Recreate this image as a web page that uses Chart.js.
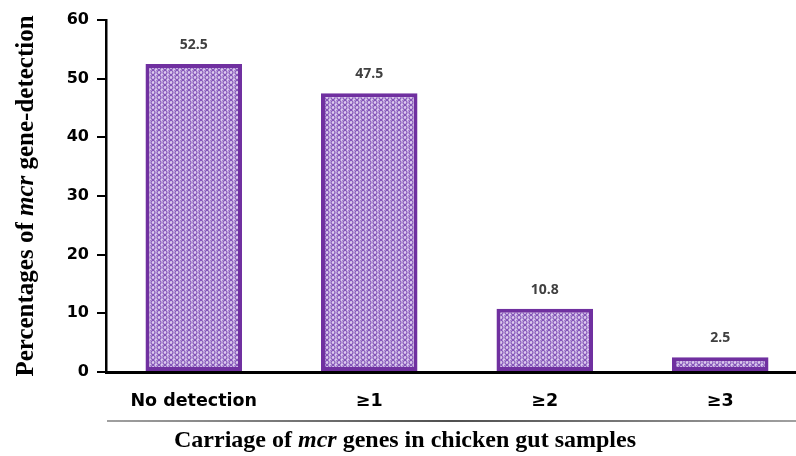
<!DOCTYPE html>
<html><head><meta charset="utf-8">
<script src="https://cdn.jsdelivr.net/npm/chart.js@4.4.1/dist/chart.umd.min.js"></script>
<style>html,body{margin:0;padding:0;overflow:hidden;background:#fff;width:796px;height:456px}
#wrap{width:812px;height:456px;position:relative}</style>
</head><body><div id="wrap"><canvas id="c" width="812" height="456"></canvas></div>
<script>
const categories = ["No detection", "\u22651", "\u22652", "\u22653"];
const percentages = [52.5, 47.5, 10.8, 2.5];
const valueLabels = ["52.5", "47.5", "10.8", "2.5"];
const yTicks = [0, 10, 20, 30, 40, 50, 60];

function makePattern() {
  const t = document.createElement('canvas');
  t.width = 6; t.height = 5;
  const g = t.getContext('2d');
  g.fillStyle = '#dccbee'; g.fillRect(0, 0, 6, 5);
  g.strokeStyle = '#8454b8'; g.lineWidth = 1.2;
  g.beginPath(); g.arc(3, 2.5, 2, 0, Math.PI * 2); g.stroke();
  g.fillStyle = '#a683cf'; g.fillRect(0, 0, 1, 1);
  return g.createPattern(t, 'repeat');
}

const textPlugin = {
  id: 'texts',
  afterDraw(chart) {
    const ctx = chart.ctx;
    const meta = chart.getDatasetMeta(0);
    ctx.save();
    ctx.fillStyle = '#404040';
    ctx.font = 'bold 14px "Open Sans"';
    ctx.textAlign = 'center'; ctx.textBaseline = 'middle';
    meta.data.forEach((b, i) => { ctx.fillText(valueLabels[i], b.x, b.y - 19); });
    const grd = ctx.createLinearGradient(107, 0, 796, 0);
    grd.addColorStop(0, '#a0a0a0'); grd.addColorStop(0.5, '#505050'); grd.addColorStop(1, '#a0a0a0');
    ctx.strokeStyle = grd; ctx.lineWidth = 2;
    ctx.beginPath(); ctx.moveTo(107, 421); ctx.lineTo(796, 421); ctx.stroke();
    function mixed(parts, x, y) {
      let w = 0;
      parts.forEach(p => { ctx.font = p[1]; w += ctx.measureText(p[0]).width; });
      let cx = x - w / 2;
      ctx.textAlign = 'left';
      parts.forEach(p => { ctx.font = p[1]; ctx.fillText(p[0], cx, y); cx += ctx.measureText(p[0]).width; });
    }
    ctx.fillStyle = '#000'; ctx.textBaseline = 'middle';
    const B = 'bold 24px "Liberation Serif"', I = 'italic bold 24px "Liberation Serif"';
    mixed([["Carriage of ", B], ["mcr", I], [" genes in chicken gut samples", B]], 405, 441);
    ctx.translate(27, 196); ctx.rotate(-Math.PI / 2);
    const B2 = 'bold 25px "Liberation Serif"', I2 = 'italic bold 25px "Liberation Serif"';
    mixed([["Percentages of ", B2], ["mcr", I2], [" gene-detection", B2]], 0, 0);
    ctx.restore();
  }
};

new Chart(document.getElementById('c'), {
  type: 'bar',
  data: {
    labels: categories,
    datasets: [{
      data: percentages,
      backgroundColor: makePattern(),
      borderColor: '#7030A0',
      borderWidth: 4,
      borderSkipped: false,
      barPercentage: 0.55,
      categoryPercentage: 1.0
    }]
  },
  options: {
    responsive: false,
    animation: false,
    layout: { padding: { top: 20, right: 4, left: 0, bottom: 0 } },
    plugins: { legend: { display: false }, tooltip: { enabled: false } },
    scales: {
      y: {
        min: 0, max: 60,
        afterBuildTicks(s) { s.ticks = yTicks.map(v => ({ value: v })); },
        afterFit(s) { s.width = 106; },
        grid: { display: true, drawOnChartArea: false, drawTicks: true, tickLength: 9, color: '#000', lineWidth: 2 },
        border: { display: true, color: '#000', width: 2.5 },
        ticks: { color: '#000', font: { family: 'DejaVu Sans', weight: 'bold', size: 16 }, padding: 8 }
      },
      x: {
        afterFit(s) { s.height = 84; },
        grid: { display: false },
        border: { display: true, color: '#000', width: 3 },
        ticks: { color: '#000', font: { family: 'DejaVu Sans', weight: 'bold', size: 17.5 }, padding: 11 }
      }
    }
  },
  plugins: [textPlugin]
});
</script></body></html>
